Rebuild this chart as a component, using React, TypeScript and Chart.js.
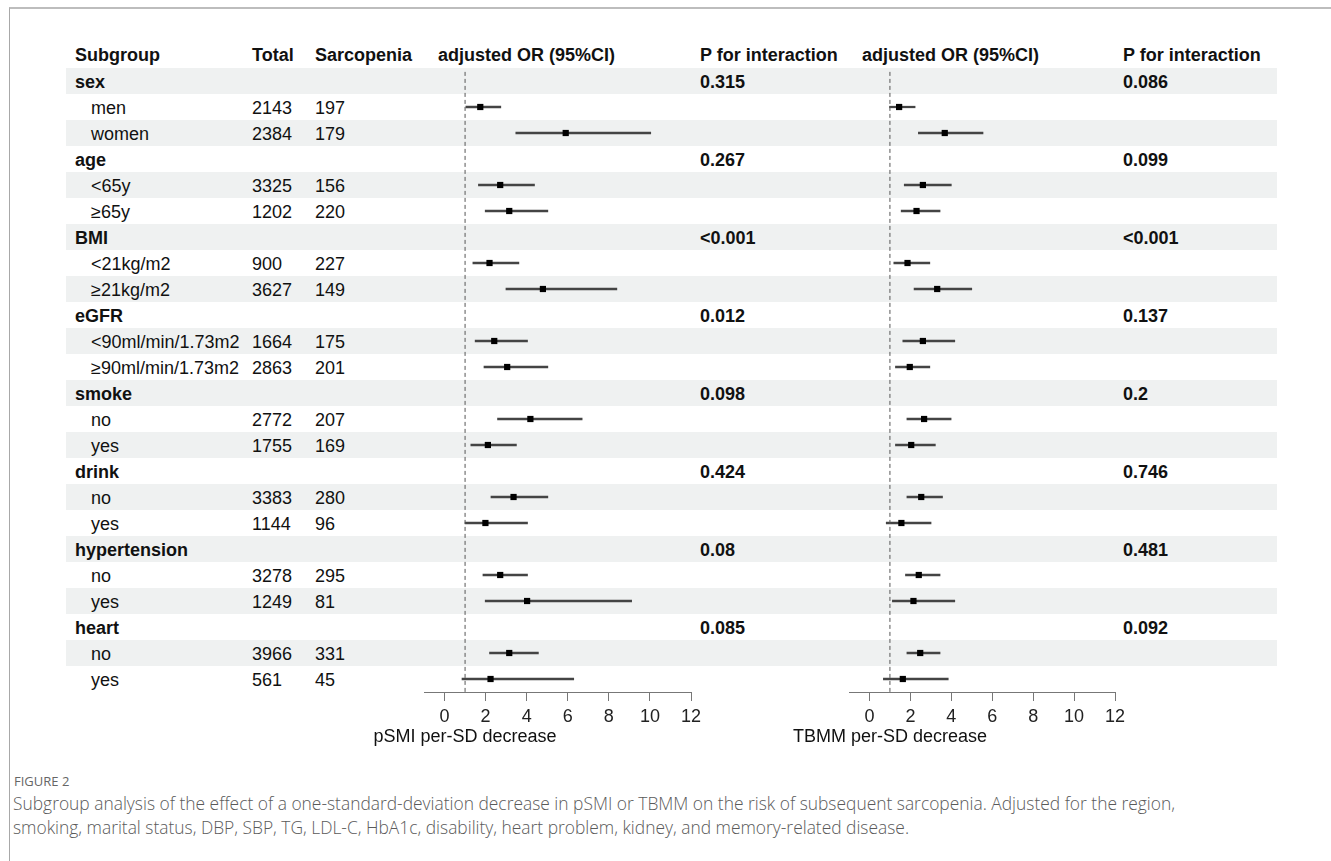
import React, { useEffect, useRef } from "react";
import { Chart, registerables } from "chart.js";

Chart.register(...registerables);

// ---------------- data ----------------
const groupLabels = ["sex", "age", "BMI", "eGFR", "smoke", "drink", "hypertension", "heart"];
const subLabels = [
  "men", "women",
  "<65y", "≥65y",
  "<21kg/m2", "≥21kg/m2",
  "<90ml/min/1.73m2", "≥90ml/min/1.73m2",
  "no", "yes",
  "no", "yes",
  "no", "yes",
  "no", "yes",
];
const totals = [2143, 2384, 3325, 1202, 900, 3627, 1664, 2863, 2772, 1755, 3383, 1144, 3278, 1249, 3966, 561];
const sarcopenia = [197, 179, 156, 220, 227, 149, 175, 201, 207, 169, 280, 96, 295, 81, 331, 45];
const pLeft = ["0.315", "0.267", "<0.001", "0.012", "0.098", "0.424", "0.08", "0.085"];
const pRight = ["0.086", "0.099", "<0.001", "0.137", "0.2", "0.746", "0.481", "0.092"];

const psmiOR = [1.74, 5.9, 2.71, 3.15, 2.19, 4.79, 2.42, 3.05, 4.18, 2.11, 3.36, 1.99, 2.71, 4.02, 3.15, 2.24];
const psmiLo = [1.04, 3.47, 1.65, 1.98, 1.38, 2.99, 1.49, 1.92, 2.58, 1.28, 2.26, 1.0, 1.87, 1.98, 2.19, 0.85];
const psmiHi = [2.74, 10.04, 4.38, 5.03, 3.62, 8.39, 4.04, 5.03, 6.7, 3.5, 5.03, 4.04, 4.04, 9.11, 4.57, 6.29];

const tbmmOR = [1.45, 3.68, 2.61, 2.3, 1.86, 3.31, 2.61, 1.97, 2.67, 2.04, 2.53, 1.56, 2.41, 2.15, 2.48, 1.63];
const tbmmLo = [0.98, 2.39, 1.7, 1.55, 1.19, 2.18, 1.63, 1.27, 1.83, 1.27, 1.83, 0.82, 1.76, 1.12, 1.83, 0.68];
const tbmmHi = [2.23, 5.55, 4.0, 3.45, 2.95, 5.0, 4.17, 2.95, 3.99, 3.22, 3.57, 3.01, 3.45, 4.17, 3.45, 3.85];

const xTicks = [0, 2, 4, 6, 8, 10, 12];
const refValue = 1;

// ---------------- layout helpers ----------------
const FONT = '"Liberation Sans", Arial, Helvetica, sans-serif';
const ROW_TOP = 68;
const ROW_H = 26;
const N_ROWS = groupLabels.length * 3;

const groupRow = (g: number) => g * 3;
const subRow = (k: number) => Math.floor(k / 2) * 3 + 1 + (k % 2);
const rowCenter = (r: number) => ROW_TOP + ROW_H * r + ROW_H / 2;

function Txt(props: { x: number; y: number; text: string; bold?: boolean }) {
  return (
    <div
      style={{
        position: "absolute",
        left: props.x,
        top: props.y - 10.5,
        height: 22,
        lineHeight: "22px",
        fontFamily: FONT,
        fontSize: 18,
        fontWeight: props.bold ? 700 : 400,
        color: "#111",
        whiteSpace: "nowrap",
      }}
    >
      {props.text}
    </div>
  );
}

function Forest(props: {
  left: number;
  padRight: number;
  or: number[];
  lo: number[];
  hi: number[];
  title: string;
}) {
  const ref = useRef<HTMLCanvasElement | null>(null);
  useEffect(() => {
    if (!ref.current) return;
    const titlePlugin = {
      id: "xtitle",
      afterDraw(chart: any) {
        const ctx = chart.ctx;
        const xs = chart.scales.x;
        ctx.save();
        ctx.font = `18px ${FONT}`;
        ctx.fillStyle = "#111";
        ctx.textAlign = "center";
        ctx.textBaseline = "middle";
        ctx.fillText(props.title, xs.getPixelForValue(refValue), chart.chartArea.bottom + 45);
        ctx.restore();
      },
    };
    const chart = new Chart(ref.current, {
      type: "scatter",
      data: {
        datasets: [
          {
            type: "bar",
            indexAxis: "y",
            data: props.or.map((_, k) => ({ y: subRow(k), x: [props.lo[k], props.hi[k]] })),
            backgroundColor: "#444",
            borderWidth: 0,
            barThickness: 1.6,
            order: 3,
          } as any,
          {
            type: "line",
            data: [
              { x: refValue, y: -0.35 },
              { x: refValue, y: N_ROWS - 0.5 },
            ],
            borderColor: "#555",
            borderWidth: 1,
            borderDash: [4, 3],
            pointRadius: 0,
            order: 2,
          } as any,
          {
            type: "scatter",
            data: props.or.map((v, k) => ({ x: v, y: subRow(k) })),
            pointStyle: "rect",
            pointRadius: 4.4,
            backgroundColor: "#000",
            borderWidth: 0,
            order: 1,
          } as any,
        ],
      },
      options: {
        animation: false,
        responsive: false,
        events: [],
        layout: { padding: { left: 80, right: props.padRight, top: 8, bottom: 18 } },
        plugins: { legend: { display: false }, tooltip: { enabled: false } },
        scales: {
          x: {
            type: "linear",
            min: -1,
            max: 12,
            offset: false,
            beginAtZero: false,
            afterBuildTicks: (s: any) => {
              s.ticks = xTicks.map((v) => ({ value: v }));
            },
            afterFit: (s: any) => {
              s.height = 50;
            },
            ticks: { font: { family: FONT, size: 18 }, color: "#222", padding: 5 },
            grid: { drawOnChartArea: false, drawTicks: true, tickLength: 9, color: "#777", lineWidth: 1, offset: false },
            border: { display: true, color: "#777", width: 1 },
          },
          y: {
            type: "linear",
            reverse: true,
            min: -0.5,
            max: N_ROWS - 0.5,
            offset: false,
            grid: { offset: false },
            display: false,
          },
        },
      } as any,
      plugins: [titlePlugin],
    });
    return () => chart.destroy();
  }, []);
  return (
    <canvas
      ref={ref}
      width={380}
      height={700}
      style={{ position: "absolute", left: props.left, top: 60, width: 380, height: 700 }}
    />
  );
}

export default function App() {
  const stripes: React.ReactNode[] = [];
  for (let r = 0; r < N_ROWS; r += 2) {
    stripes.push(
      <div
        key={"s" + r}
        style={{
          position: "absolute",
          left: 66,
          top: ROW_TOP + r * ROW_H,
          width: 1211,
          height: ROW_H,
          background: "#eff1f1",
        }}
      />
    );
  }
  const texts: React.ReactNode[] = [];
  const hy = 54;
  texts.push(<Txt key="h1" x={75} y={hy} text="Subgroup" bold />);
  texts.push(<Txt key="h2" x={252} y={hy} text="Total" bold />);
  texts.push(<Txt key="h3" x={315} y={hy} text="Sarcopenia" bold />);
  texts.push(<Txt key="h4" x={438} y={hy} text="adjusted OR (95%CI)" bold />);
  texts.push(<Txt key="h5" x={700} y={hy} text="P for interaction" bold />);
  texts.push(<Txt key="h6" x={862} y={hy} text="adjusted OR (95%CI)" bold />);
  texts.push(<Txt key="h7" x={1123} y={hy} text="P for interaction" bold />);
  groupLabels.forEach((g, i) => {
    const y = rowCenter(groupRow(i)) + 0.5;
    texts.push(<Txt key={"g" + i} x={75} y={y} text={g} bold />);
    texts.push(<Txt key={"pl" + i} x={700} y={y} text={pLeft[i]} bold />);
    texts.push(<Txt key={"pr" + i} x={1123} y={y} text={pRight[i]} bold />);
  });
  subLabels.forEach((s, k) => {
    const y = rowCenter(subRow(k)) + 0.5;
    texts.push(<Txt key={"sl" + k} x={91} y={y} text={s} />);
    texts.push(<Txt key={"st" + k} x={252} y={y} text={String(totals[k])} />);
    texts.push(<Txt key={"ss" + k} x={315} y={y} text={String(sarcopenia[k])} />);
  });

  return (
    <div
      style={{
        position: "absolute",
        left: 0,
        top: 0,
        width: 1331,
        height: 861,
        background: "#fff",
        overflow: "hidden",
      }}
    >
      <div
        style={{
          position: "absolute",
          left: 9,
          top: 7,
          width: 1400,
          height: 900,
          borderTop: "2px solid #bdbdbd",
          borderLeft: "1px solid #a8a8a8",
        }}
      />
      {stripes}
      {texts}
      <Forest left={344} padRight={33} or={psmiOR} lo={psmiLo} hi={psmiHi} title="pSMI per-SD decrease" />
      <Forest left={769} padRight={34} or={tbmmOR} lo={tbmmLo} hi={tbmmHi} title="TBMM per-SD decrease" />
      <div
        style={{
          position: "absolute",
          left: 14,
          top: 772,
          fontFamily: '"Open Sans", sans-serif',
          fontSize: 13,
          color: "#666",
          lineHeight: "18px",
        }}
      >
        FIGURE 2
      </div>
      <div
        style={{
          position: "absolute",
          left: 13,
          top: 792,
          fontFamily: '"Open Sans", sans-serif',
          fontWeight: 300,
          fontSize: 17.4,
          color: "#5a5a5a",
          lineHeight: "23.5px",
          whiteSpace: "nowrap",
        }}
      >
        <div>
          Subgroup analysis of the effect of a one-standard-deviation decrease in pSMI or TBMM on the risk of subsequent sarcopenia. Adjusted for the region,
        </div>
        <div>smoking, marital status, DBP, SBP, TG, LDL-C, HbA1c, disability, heart problem, kidney, and memory-related disease.</div>
      </div>
    </div>
  );
}
